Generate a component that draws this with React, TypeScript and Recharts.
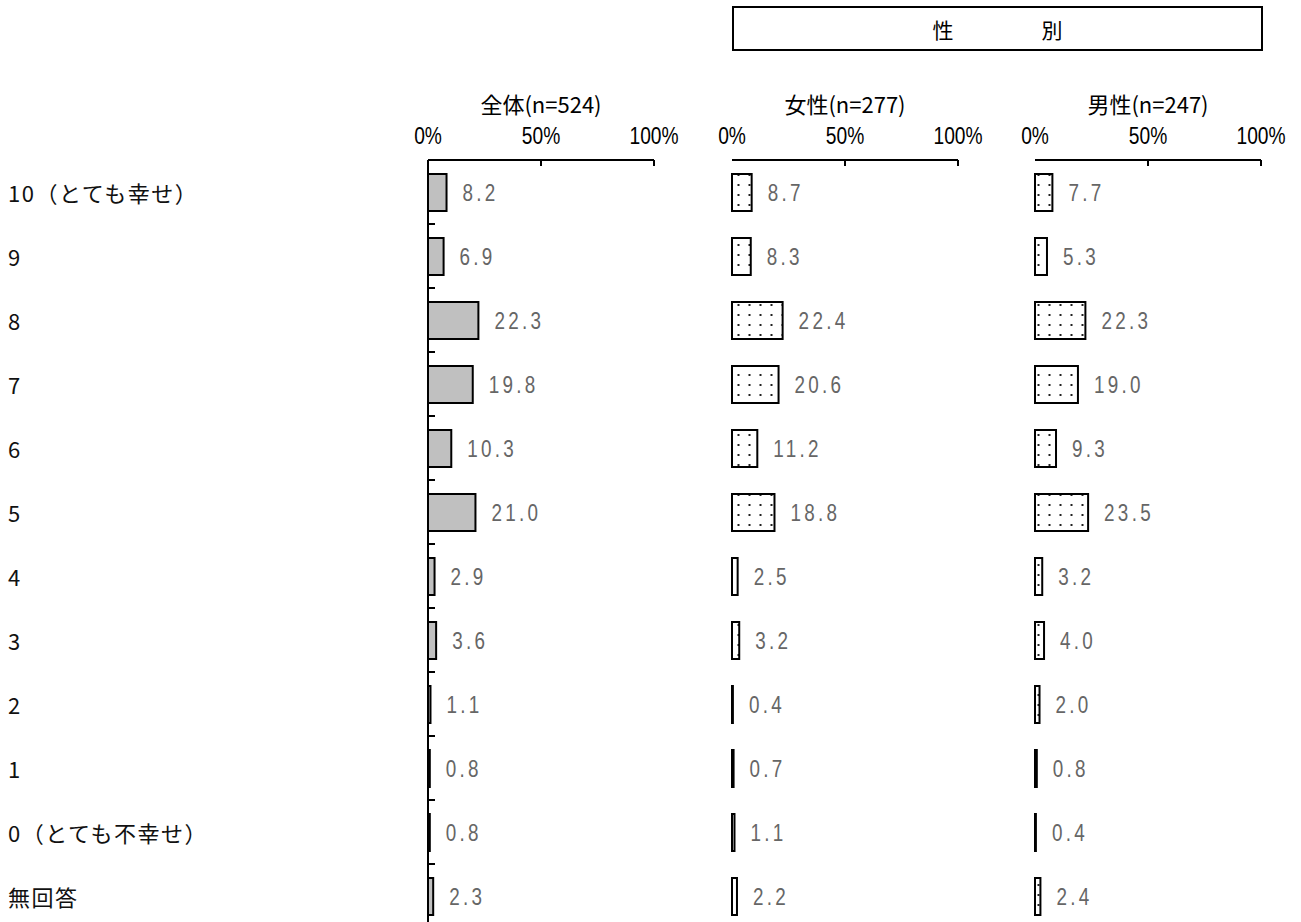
import React from 'react';
import { BarChart, Bar, XAxis, YAxis, LabelList } from 'recharts';

// Chart data
const categories: string[] = [
  '10（とても幸せ）', '9', '8', '7', '6', '5', '4', '3', '2', '1', '0（とても不幸せ）', '無回答',
];
const totalValues: number[] = [8.2, 6.9, 22.3, 19.8, 10.3, 21.0, 2.9, 3.6, 1.1, 0.8, 0.8, 2.3];
const femaleValues: number[] = [8.7, 8.3, 22.4, 20.6, 11.2, 18.8, 2.5, 3.2, 0.4, 0.7, 1.1, 2.2];
const maleValues: number[] = [7.7, 5.3, 22.3, 19.0, 9.3, 23.5, 3.2, 4.0, 2.0, 0.8, 0.4, 2.4];
const percentTicks: number[] = [0, 50, 100];
const panelTitles: string[] = ['全体(n=524)', '女性(n=277)', '男性(n=247)'];
const groupTitle: string[] = ['性', '別'];

const data = categories.map((name, i) => ({
  name,
  total: totalValues[i],
  female: femaleValues[i],
  male: maleValues[i],
}));

const CHART_H = 928;
const AXIS_TOP = 160;
const PLOT_W = 226;
const BAND = (CHART_H - AXIS_TOP) / categories.length;
const LABEL_X = 8;

const NUM_FONT = '"Liberation Sans", sans-serif';
const JP_FONT = '"Noto Sans CJK JP", sans-serif';

interface Panel {
  key: 'total' | 'female' | 'male';
  left: number;
  width: number;
  marginLeft: number;
  axisWidth: number;
  fill: string;
  pattern?: string;
}

const panels: Panel[] = [
  { key: 'total', left: 0, width: 700, marginLeft: 8, axisWidth: 420, fill: '#c0c0c0' },
  { key: 'female', left: 700, width: 300, marginLeft: 32, axisWidth: 0, fill: 'url(#dotsFemale)', pattern: 'dotsFemale' },
  { key: 'male', left: 1000, width: 301, marginLeft: 35, axisWidth: 0, fill: 'url(#dotsMale)', pattern: 'dotsMale' },
];

// narrow look for numbers (squeezed horizontally)
const PercentTick = (props: any) => {
  const { x, y, payload } = props;
  return (
    <g>
      <text
        transform={`translate(${x},${y - 16}) scale(0.8,1)`}
        textAnchor="middle"
        fontFamily={NUM_FONT}
        fontSize={24}
        fill="#000"
      >
        {payload.value}%
      </text>
      {payload.value !== 0 && <line x1={x} y1={y} x2={x} y2={y + 6} stroke="#000" strokeWidth={2} />}
    </g>
  );
};

const CategoryTick = (props: any) => {
  const { x, y, payload, showLabel } = props;
  return (
    <g>
      {showLabel && (
        <text
          x={LABEL_X}
          y={y}
          dominantBaseline="central"
          fontFamily={JP_FONT}
          fontSize={22}
          fill="#111"
          style={{ letterSpacing: 1.5 }}
        >
          {payload.value}
        </text>
      )}
      <line x1={x} y1={y + BAND / 2} x2={x + 7} y2={y + BAND / 2} stroke="#000" strokeWidth={2} />
    </g>
  );
};

const ValueLabel = (props: any) => {
  const { x, y, width, height, value } = props;
  return (
    <text
      transform={`translate(${x + width + 16},${y + height / 2}) scale(0.82,1)`}
      dominantBaseline="central"
      fontFamily={NUM_FONT}
      fontSize={23}
      fill="#666"
      letterSpacing={4}
    >
      {Number(value).toFixed(1)}
    </text>
  );
};

const App: React.FC = () => {
  return (
    <div style={{ position: 'fixed', inset: 0, overflow: 'hidden', background: '#fff' }}>
      {/* group header box */}
      <div
        style={{
          position: 'absolute', left: 732, top: 6, width: 527, height: 41,
          border: '2px solid #000', display: 'flex', justifyContent: 'center',
          alignItems: 'center', gap: 88, fontFamily: JP_FONT, fontSize: 21,
        }}
      >
        {groupTitle.map((t) => <span key={t}>{t}</span>)}
      </div>

      {panels.map((p, i) => {
        const plotLeft = p.left + p.marginLeft + p.axisWidth;
        return (
          <React.Fragment key={p.key}>
            {/* panel title */}
            <div
              style={{
                position: 'absolute', left: plotLeft - 20, top: 89, width: PLOT_W + 40,
                textAlign: 'center', fontFamily: JP_FONT, fontSize: 22, lineHeight: '28px',
              }}
            >
              {panelTitles[i]}
            </div>
            <div style={{ position: 'absolute', left: p.left, top: 0 }}>
              <BarChart
                width={p.width}
                height={CHART_H}
                data={data}
                layout="vertical"
                margin={{ top: 0, right: p.width - p.marginLeft - p.axisWidth - PLOT_W, bottom: 0, left: p.marginLeft }}
              >
                {p.pattern && (
                  <defs>
                    <pattern id={p.pattern} width={11} height={10} patternUnits="userSpaceOnUse">
                      <rect width={11} height={10} fill="#fff" />
                      <rect x={4.5} y={4} width={2} height={2} fill="#222" />
                    </pattern>
                  </defs>
                )}
                <XAxis
                  type="number"
                  orientation="top"
                  domain={[0, 100]}
                  ticks={percentTicks}
                  height={AXIS_TOP}
                  tickSize={0}
                  tickMargin={0}
                  tickLine={false}
                  axisLine={{ stroke: '#000', strokeWidth: 2 }}
                  tick={(t: any) => <PercentTick {...t} />}
                />
                <YAxis
                  type="category"
                  dataKey="name"
                  width={p.axisWidth}
                  interval={0}
                  tickSize={0}
                  tickMargin={0}
                  tickLine={false}
                  axisLine={{ stroke: '#000', strokeWidth: 2 }}
                  tick={(t: any) => <CategoryTick {...t} showLabel={i === 0} />}
                />
                <Bar
                  dataKey={p.key}
                  barSize={37}
                  fill={p.fill}
                  stroke="#000"
                  strokeWidth={2}
                  isAnimationActive={false}
                >
                  <LabelList dataKey={p.key} content={(l: any) => <ValueLabel {...l} />} />
                </Bar>
              </BarChart>
            </div>
          </React.Fragment>
        );
      })}
    </div>
  );
};

export default App;
